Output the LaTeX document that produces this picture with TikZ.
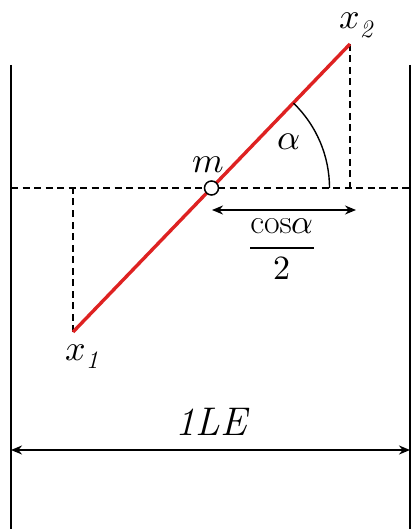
\documentclass[tikz,border=0pt]{standalone}
\usepackage{amsmath}
\usepackage{unicode-math}
\usetikzlibrary{arrows.meta}
\definecolor{rodred}{RGB}{222,34,34}
\tikzset{
  wall/.style={line width=1.6pt},
  guide/.style={dash pattern=on 7pt off 4.5pt,line width=1.6pt},
  span/.style={{Stealth[length=11pt,width=9pt]}-{Stealth[length=11pt,width=9pt]},line width=1.8pt},
  lbl/.style={font=\fontsize{36}{42}\selectfont,inner sep=0pt}
}

\begin{document}
\begin{tikzpicture}[x=1pt,y=-1pt]
  \def\W{411}
  \def\H{529}
  \def\WallL{11}
  \def\WallR{410}
  \def\WallTop{65}
  \def\Hy{188}
  \def\R{118}
  \useasboundingbox (0,0) rectangle (\W,\H);

  \coordinate (x1) at (73,332);
  \coordinate (x2) at (350,44);
  \coordinate (foot1) at (73,\Hy);
  \coordinate (foot2) at (350,\Hy);
  \coordinate (hl) at (\WallL,\Hy);
  \coordinate (hr) at (\WallR,\Hy);

  \draw[wall] (\WallL,\WallTop) -- (\WallL,\H);
  \draw[wall] (\WallR,\WallTop) -- (\WallR,\H);

  \draw[guide] (hl) -- (hr);
  \draw[guide] (x2) -- (foot2);
  \draw[guide] (x1) -- (foot1);

  \draw[rodred,line width=3.4pt] (x1) -- (x2);

  \node[circle,draw,fill=white,inner sep=0pt,minimum size=14pt,line width=1.5pt] (m) at (211.5,\Hy) {};
  \draw[line width=1.4pt] (m.center) ++(\R,0) arc[start angle=0,end angle=-46,radius=\R];

  \node[lbl,anchor=base west] (x2lbl) at (339,29) {$x_{\mathit{2}}$};
  \node[lbl,anchor=base west] (x1lbl) at (65,360) {$x_{\mathit{1}}$};
  \node[lbl,anchor=base west] (mlbl) at (192,173) {$m$};
  \node[lbl] (alpha) at (289,142) {$\alpha$};

  % half length
  \coordinate (ha) at (212,210);
  \coordinate (hb) at (356,210);
  \draw[span,line width=1.6pt] (ha) -- (hb);
  \node[inner sep=0pt,font=\fontsize{34}{40}\selectfont] (half) at (282,249)
    {$\dfrac{\mathrm{cos}\alpha}{2}$};

  % one length
  \coordinate (la) at (\WallL,450);
  \coordinate (lb) at (\WallR,450);
  \draw[span] (la) -- (lb);
  \node[lbl,anchor=base,font=\fontsize{40}{46}\selectfont\itshape] (le) at (211,435) {1LE};
\end{tikzpicture}
\end{document}
